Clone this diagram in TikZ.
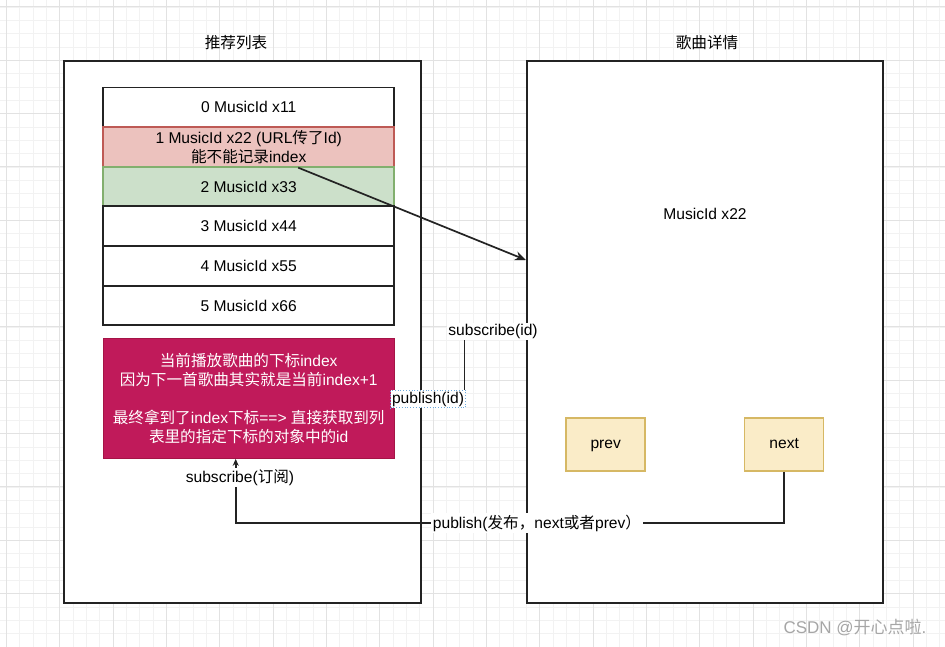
\documentclass[tikz,border=0pt]{standalone}
\usepackage{fontspec}
\setmainfont{Liberation Sans}
\newfontfamily\cjk{Noto Sans CJK SC}
\usetikzlibrary{arrows.meta,calc,positioning}
\definecolor{gridminor}{RGB}{242,242,242}
\definecolor{gridmajor}{RGB}{226,226,226}
\definecolor{edgec}{RGB}{35,35,35}
\definecolor{redfill}{RGB}{236,194,190}
\definecolor{redline}{RGB}{190,90,85}
\definecolor{greenfill}{RGB}{204,224,202}
\definecolor{greenline}{RGB}{130,175,110}
\definecolor{magfill}{RGB}{192,26,90}
\definecolor{magline}{RGB}{165,20,70}
\definecolor{yfill}{RGB}{250,236,200}
\definecolor{yline}{RGB}{214,184,100}
\definecolor{selblue}{RGB}{110,170,220}
\tikzset{
  txt/.style={font=\fontsize{15.6}{18.5}\selectfont, align=center, inner sep=0pt},
  outerbox/.style={draw=edgec, line width=2pt, fill=white},
  rowbox/.style={draw=edgec, line width=1.7pt, fill=white, minimum width=291pt, minimum height=39.6pt, txt},
  smallbox/.style={draw=yline, line width=1.5pt, fill=yfill, minimum width=79pt, minimum height=53pt, txt, text height=11pt, text depth=3.5pt},
  conn/.style={draw=edgec, line width=1.7pt},
  lbl/.style={txt, fill=white, inner sep=1.5pt},
}
\begin{document}
\begin{tikzpicture}[x=1pt,y=-1pt]
\useasboundingbox (0,0) rectangle (945,647);
\fill[white] (0,0) rectangle (945,647);
% grid
\foreach \i in {0,...,70} {
  \pgfmathsetmacro{\xx}{6.5+\i*13.333}
  \draw[gridminor, line width=0.8pt] (\xx,0) -- (\xx,647);
}
\foreach \i in {0,...,48} {
  \pgfmathsetmacro{\yy}{7+\i*13.333}
  \draw[gridminor, line width=0.8pt] (0,\yy) -- (945,\yy);
}
\foreach \i in {0,...,17} {
  \pgfmathsetmacro{\xx}{6.5+\i*53.333}
  \draw[gridmajor, line width=1pt] (\xx,0) -- (\xx,647);
}
\foreach \i in {0,...,12} {
  \pgfmathsetmacro{\yy}{7+\i*53.333}
  \draw[gridmajor, line width=1pt] (0,\yy) -- (945,\yy);
}
% titles
\node[txt] (t1) at (236,43) {\cjk 推荐列表};
\node[txt] (t2) at (707,43) {\cjk 歌曲详情};
% outer boxes
\node[outerbox, minimum width=357pt, minimum height=542pt, inner sep=0pt] (left) at (242.5,332) {};
\node[outerbox, minimum width=356pt, minimum height=542pt, inner sep=0pt] (right) at (705,332) {};
% list rows
\node[rowbox] (r0) at (248.7,107.3) {0 MusicId x11};
\node[rowbox, draw=redline, fill=redfill] (r1) at (248.7,147) {1 MusicId x22 (URL{\cjk 传了}Id)\\{\cjk 能不能记录}index};
\node[rowbox, draw=greenline, fill=greenfill] (r2) at (248.7,186.5) {2 MusicId x33};
\node[rowbox] (r3) at (248.7,226) {3 MusicId x44};
\node[rowbox] (r4) at (248.7,265.8) {4 MusicId x55};
\node[rowbox] (r5) at (248.7,305.5) {5 MusicId x66};
% magenta box
\node[draw=magline, line width=1.2pt, fill=magfill, text=white, txt, minimum width=291pt, minimum height=119.5pt, font=\fontsize{15.6}{19.2}\selectfont] (mag) at (248.7,398.5)
  {{\cjk 当前播放歌曲的下标}index\\{\cjk 因为下一首歌曲其实就是当前}index+1\\[19.2pt]{\cjk 最终拿到了}index{\cjk 下标}==> {\cjk 直接获取到列}\\{\cjk 表里的指定下标的对象中的}id};
% right content
\node[txt] (mid) at (705,214) {MusicId x22};
\node[smallbox] (prev) at (605.7,444.5) {prev};
\node[smallbox] (next) at (784.2,444.5) {next};
% arrow from row 1 to detail box
\coordinate (a1) at ($(r1.south)+(49.5,0)$);
\coordinate (a2) at (right.west |- 0,260);
\draw[conn, -{Stealth[length=11pt,width=9pt]}] (a1) -- (a2);
% subscribe(id) / publish(id)
\node[txt, fill=white, inner sep=1.5pt] (si) at (493,331.5) {subscribe(id)};
\node[txt, fill=white, inner sep=1.5pt, draw=selblue, dotted, line width=0.8pt, minimum height=17pt] (pi) at (428,399) {publish(id)};
\draw[conn] (si.south -| pi.east) ++(-1.5,0) coordinate (s1) -- (s1 |- pi.north);
% next -> subscribe
\coordinate (cx) at ($(mag.south)+(-13,0)$);
\coordinate (c1) at (next.south |- 0,523);
\coordinate (c2) at (cx |- 0,523);
\draw[conn, -{Stealth[length=7pt,width=6pt]}] (next.south) -- (c1) -- (c2) -- (cx);
\node[lbl] (pl) at (537,523) {publish({\cjk 发布，}next{\cjk 或者}prev{\cjk ）}};
\node[lbl] (sl) at (240,477.5) {subscribe({\cjk 订阅})};
% watermark
\node[txt, text=gray!70, font=\fontsize{17}{19}\selectfont] (wm) at (855,627) {CSDN @{\cjk 开心点啦}.};
\end{tikzpicture}
\end{document}
